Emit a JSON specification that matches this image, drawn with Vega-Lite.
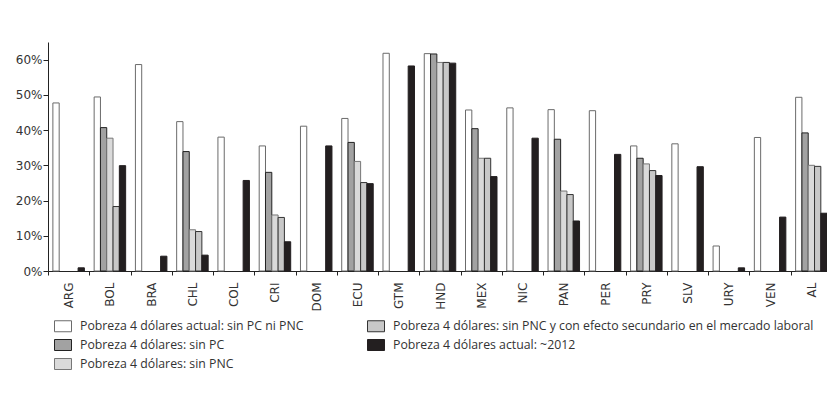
{
  "$schema": "https://vega.github.io/schema/vega-lite/v6.json",
  "width": 784,
  "height": 229,
  "autosize": {"type": "none"},
  "padding": {"left": 48, "top": 42, "right": 0, "bottom": 141},
  "background": "white",
  "config": {
    "view": {"stroke": null},
    "font": "DejaVu Sans",
    "axis": {"labelFont": "DejaVu Sans", "labelFontSize": 12, "labelColor": "#333333", "domainColor": "#222222", "tickColor": "#222222", "grid": false, "title": null},
    "legend": {"labelFont": "Open Sans", "labelFontSize": 12.3, "labelColor": "#333333"}
  },
  "data": {
    "values": [
      {"pais": "ARG", "serie": "Pobreza 4 dólares actual: sin PC ni PNC", "valor": 0.477},
      {"pais": "ARG", "serie": "Pobreza 4 dólares actual: ~2012", "valor": 0.009},
      {"pais": "BOL", "serie": "Pobreza 4 dólares actual: sin PC ni PNC", "valor": 0.494},
      {"pais": "BOL", "serie": "Pobreza 4 dólares: sin PC", "valor": 0.407},
      {"pais": "BOL", "serie": "Pobreza 4 dólares: sin PNC", "valor": 0.377},
      {"pais": "BOL", "serie": "Pobreza 4 dólares: sin PNC y con efecto secundario en el mercado laboral", "valor": 0.183},
      {"pais": "BOL", "serie": "Pobreza 4 dólares actual: ~2012", "valor": 0.299},
      {"pais": "BRA", "serie": "Pobreza 4 dólares actual: sin PC ni PNC", "valor": 0.586},
      {"pais": "BRA", "serie": "Pobreza 4 dólares actual: ~2012", "valor": 0.042},
      {"pais": "CHL", "serie": "Pobreza 4 dólares actual: sin PC ni PNC", "valor": 0.424},
      {"pais": "CHL", "serie": "Pobreza 4 dólares: sin PC", "valor": 0.339},
      {"pais": "CHL", "serie": "Pobreza 4 dólares: sin PNC", "valor": 0.117},
      {"pais": "CHL", "serie": "Pobreza 4 dólares: sin PNC y con efecto secundario en el mercado laboral", "valor": 0.112},
      {"pais": "CHL", "serie": "Pobreza 4 dólares actual: ~2012", "valor": 0.045},
      {"pais": "COL", "serie": "Pobreza 4 dólares actual: sin PC ni PNC", "valor": 0.380},
      {"pais": "COL", "serie": "Pobreza 4 dólares actual: ~2012", "valor": 0.257},
      {"pais": "CRI", "serie": "Pobreza 4 dólares actual: sin PC ni PNC", "valor": 0.355},
      {"pais": "CRI", "serie": "Pobreza 4 dólares: sin PC", "valor": 0.280},
      {"pais": "CRI", "serie": "Pobreza 4 dólares: sin PNC", "valor": 0.159},
      {"pais": "CRI", "serie": "Pobreza 4 dólares: sin PNC y con efecto secundario en el mercado laboral", "valor": 0.152},
      {"pais": "CRI", "serie": "Pobreza 4 dólares actual: ~2012", "valor": 0.083},
      {"pais": "DOM", "serie": "Pobreza 4 dólares actual: sin PC ni PNC", "valor": 0.411},
      {"pais": "DOM", "serie": "Pobreza 4 dólares actual: ~2012", "valor": 0.355},
      {"pais": "ECU", "serie": "Pobreza 4 dólares actual: sin PC ni PNC", "valor": 0.433},
      {"pais": "ECU", "serie": "Pobreza 4 dólares: sin PC", "valor": 0.365},
      {"pais": "ECU", "serie": "Pobreza 4 dólares: sin PNC", "valor": 0.311},
      {"pais": "ECU", "serie": "Pobreza 4 dólares: sin PNC y con efecto secundario en el mercado laboral", "valor": 0.251},
      {"pais": "ECU", "serie": "Pobreza 4 dólares actual: ~2012", "valor": 0.248},
      {"pais": "GTM", "serie": "Pobreza 4 dólares actual: sin PC ni PNC", "valor": 0.618},
      {"pais": "GTM", "serie": "Pobreza 4 dólares actual: ~2012", "valor": 0.582},
      {"pais": "HND", "serie": "Pobreza 4 dólares actual: sin PC ni PNC", "valor": 0.617},
      {"pais": "HND", "serie": "Pobreza 4 dólares: sin PC", "valor": 0.616},
      {"pais": "HND", "serie": "Pobreza 4 dólares: sin PNC", "valor": 0.592},
      {"pais": "HND", "serie": "Pobreza 4 dólares: sin PNC y con efecto secundario en el mercado laboral", "valor": 0.592},
      {"pais": "HND", "serie": "Pobreza 4 dólares actual: ~2012", "valor": 0.590},
      {"pais": "MEX", "serie": "Pobreza 4 dólares actual: sin PC ni PNC", "valor": 0.457},
      {"pais": "MEX", "serie": "Pobreza 4 dólares: sin PC", "valor": 0.404},
      {"pais": "MEX", "serie": "Pobreza 4 dólares: sin PNC", "valor": 0.320},
      {"pais": "MEX", "serie": "Pobreza 4 dólares: sin PNC y con efecto secundario en el mercado laboral", "valor": 0.320},
      {"pais": "MEX", "serie": "Pobreza 4 dólares actual: ~2012", "valor": 0.268},
      {"pais": "NIC", "serie": "Pobreza 4 dólares actual: sin PC ni PNC", "valor": 0.463},
      {"pais": "NIC", "serie": "Pobreza 4 dólares actual: ~2012", "valor": 0.377},
      {"pais": "PAN", "serie": "Pobreza 4 dólares actual: sin PC ni PNC", "valor": 0.458},
      {"pais": "PAN", "serie": "Pobreza 4 dólares: sin PC", "valor": 0.374},
      {"pais": "PAN", "serie": "Pobreza 4 dólares: sin PNC", "valor": 0.227},
      {"pais": "PAN", "serie": "Pobreza 4 dólares: sin PNC y con efecto secundario en el mercado laboral", "valor": 0.217},
      {"pais": "PAN", "serie": "Pobreza 4 dólares actual: ~2012", "valor": 0.142},
      {"pais": "PER", "serie": "Pobreza 4 dólares actual: sin PC ni PNC", "valor": 0.455},
      {"pais": "PER", "serie": "Pobreza 4 dólares actual: ~2012", "valor": 0.331},
      {"pais": "PRY", "serie": "Pobreza 4 dólares actual: sin PC ni PNC", "valor": 0.355},
      {"pais": "PRY", "serie": "Pobreza 4 dólares: sin PC", "valor": 0.320},
      {"pais": "PRY", "serie": "Pobreza 4 dólares: sin PNC", "valor": 0.304},
      {"pais": "PRY", "serie": "Pobreza 4 dólares: sin PNC y con efecto secundario en el mercado laboral", "valor": 0.285},
      {"pais": "PRY", "serie": "Pobreza 4 dólares actual: ~2012", "valor": 0.271},
      {"pais": "SLV", "serie": "Pobreza 4 dólares actual: sin PC ni PNC", "valor": 0.361},
      {"pais": "SLV", "serie": "Pobreza 4 dólares actual: ~2012", "valor": 0.296},
      {"pais": "URY", "serie": "Pobreza 4 dólares actual: sin PC ni PNC", "valor": 0.071},
      {"pais": "URY", "serie": "Pobreza 4 dólares actual: ~2012", "valor": 0.009},
      {"pais": "VEN", "serie": "Pobreza 4 dólares actual: sin PC ni PNC", "valor": 0.379},
      {"pais": "VEN", "serie": "Pobreza 4 dólares actual: ~2012", "valor": 0.153},
      {"pais": "AL", "serie": "Pobreza 4 dólares actual: sin PC ni PNC", "valor": 0.493},
      {"pais": "AL", "serie": "Pobreza 4 dólares: sin PC", "valor": 0.392},
      {"pais": "AL", "serie": "Pobreza 4 dólares: sin PNC", "valor": 0.300},
      {"pais": "AL", "serie": "Pobreza 4 dólares: sin PNC y con efecto secundario en el mercado laboral", "valor": 0.297},
      {"pais": "AL", "serie": "Pobreza 4 dólares actual: ~2012", "valor": 0.164}
    ]
  },
  "mark": {"type": "bar", "strokeWidth": 1},
  "encoding": {
    "x": {
      "field": "pais",
      "type": "nominal",
      "sort": ["ARG", "BOL", "BRA", "CHL", "COL", "CRI", "DOM", "ECU", "GTM", "HND", "MEX", "NIC", "PAN", "PER", "PRY", "SLV", "URY", "VEN", "AL"],
      "scale": {"paddingInner": 0, "paddingOuter": 0},
      "axis": {"labelAngle": -90, "tickBand": "extent", "tickSize": 4, "labelPadding": 7, "domainWidth": 1}
    },
    "xOffset": {
      "field": "serie",
      "type": "nominal",
      "sort": ["Pobreza 4 dólares actual: sin PC ni PNC", "Pobreza 4 dólares: sin PC", "Pobreza 4 dólares: sin PNC", "Pobreza 4 dólares: sin PNC y con efecto secundario en el mercado laboral", "Pobreza 4 dólares actual: ~2012"],
      "scale": {"paddingInner": 0, "paddingOuter": 0.775}
    },
    "y": {
      "field": "valor",
      "type": "quantitative",
      "scale": {"domain": [0, 0.65], "nice": false},
      "axis": {"values": [0, 0.1, 0.2, 0.3, 0.4, 0.5, 0.6], "format": ".0%", "tickSize": 5, "labelPadding": 1}
    },
    "color": {
      "field": "serie",
      "type": "nominal",
      "scale": {
        "domain": ["Pobreza 4 dólares actual: sin PC ni PNC", "Pobreza 4 dólares: sin PC", "Pobreza 4 dólares: sin PNC", "Pobreza 4 dólares: sin PNC y con efecto secundario en el mercado laboral", "Pobreza 4 dólares actual: ~2012"],
        "range": ["#ffffff", "#a2a2a2", "#dadada", "#c8c8c8", "#231f20"]
      },
      "legend": {
        "orient": "none",
        "legendX": 6,
        "legendY": 275,
        "columns": 2,
        "title": null,
        "padding": 0,
        "columnPadding": 61,
        "rowPadding": 2,
        "labelOffset": 8,
        "labelLimit": 600,
        "symbolType": "M-1,-0.647L1,-0.647L1,0.647L-1,0.647Z",
        "symbolSize": 289,
        "symbolStrokeColor": "#444444",
        "symbolStrokeWidth": 1
      }
    },
    "stroke": {
      "field": "serie",
      "type": "nominal",
      "scale": {
        "domain": ["Pobreza 4 dólares actual: sin PC ni PNC", "Pobreza 4 dólares: sin PC", "Pobreza 4 dólares: sin PNC", "Pobreza 4 dólares: sin PNC y con efecto secundario en el mercado laboral", "Pobreza 4 dólares actual: ~2012"],
        "range": ["#6b6b6b", "#222222", "#777777", "#333333", "#231f20"]
      },
      "legend": null
    }
  }
}
